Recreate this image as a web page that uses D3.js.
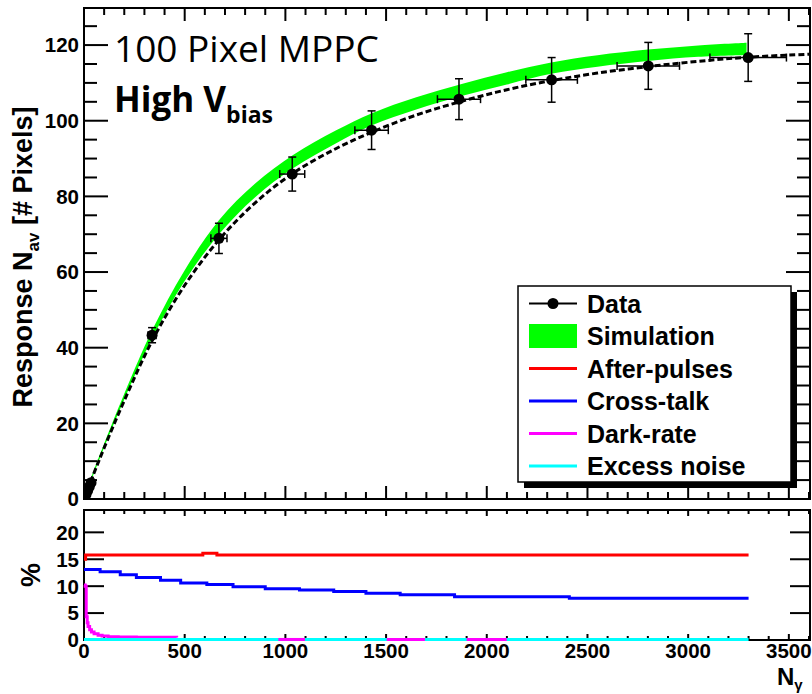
<!DOCTYPE html>
<html>
<head>
<meta charset="utf-8">
<script src="https://cdn.jsdelivr.net/npm/d3@7"></script>
<style>
  body { margin: 0; background: #fff; }
  text { font-family: "Liberation Sans", Arial, sans-serif; font-weight: bold; }
</style>
</head>
<body>
<script>
// Data

// measured points (N_gamma, response, errors)
const dataN    = [3, 10, 18, 26, 35, 338, 670, 1034, 1428, 1862, 2322, 2802, 3298];
const dataY    = [0.3, 1.2, 2.2, 3.2, 4.3, 43.3, 68.9, 85.9, 97.5, 105.7, 110.8, 114.5, 116.7];
const dataErrY = [0.3, 0.5, 0.6, 0.7, 0.8, 2, 4, 4.5, 5.1, 5.4, 5.9, 6.2, 6.3];
const dataErrN = [1, 1, 1, 2, 2, 20, 40, 62, 83, 107, 128, 155, 190];

// dashed fit
const fitN = [0, 50, 100, 200, 340, 500, 670, 850, 1040, 1250, 1430, 1650, 1880, 2100, 2320, 2550, 2800, 3050, 3300, 3605];
const fitY = [0, 6.9, 13.5, 26, 42, 56.5, 68.5, 78.3, 86.2, 92.6, 97, 101.5, 105.2, 108.2, 110.6, 112.6, 114.3, 115.7, 116.8, 117.6];

// simulation band
const simN  = [0, 50, 100, 200, 340, 500, 670, 850, 1040, 1250, 1430, 1650, 1880, 2100, 2320, 2550, 2800, 3050, 3290];
const simLo = [0, 6.9, 13.6, 26.3, 42.6, 57.6, 70, 79.8, 87.5, 94, 98.8, 103, 106.6, 109.6, 112.4, 114.3, 115.8, 116.9, 117.4];
const simHi = [0.4, 7.7, 14.6, 27.8, 44.8, 60.5, 73.7, 83.4, 91, 97.4, 102, 106.2, 109.8, 112.8, 115.4, 117.3, 118.8, 119.9, 120.6];

// lower panel, contributions in %
const apN = [0, 8, 590, 660, 3300];
const apV = [15.0, 15.8, 16.1, 15.8, 15.8];
const ctN = [0, 80, 180, 260, 380, 480, 610, 740, 900, 1070, 1240, 1400, 1570, 1840, 2410, 3300];
const ctV = [13.1, 12.7, 12.1, 11.6, 11.1, 10.6, 10.3, 9.9, 9.5, 9.3, 9.0, 8.7, 8.4, 8.05, 7.75, 7.75];
const drN = [0, 6, 11, 16, 20, 28, 37, 50, 70, 90, 120, 170, 260, 350, 460];
const drV = [10.2, 10.0, 4.3, 3.2, 2.5, 1.9, 1.5, 1.15, 0.9, 0.75, 0.6, 0.55, 0.5, 0.5, 0.45];
const drFlat = [[965, 1097], [1503, 1693], [1900, 2099]];
const enN = [0, 3300];
const enV = [0.1, 0.1];

const xTicks = [0, 500, 1000, 1500, 2000, 2500, 3000, 3500];
const yTopTicks = [0, 20, 40, 60, 80, 100, 120];
const yBotTicks = [0, 5, 10, 15, 20];

const legendItems = [
  { label: 'Data', kind: 'data' },
  { label: 'Simulation', kind: 'box', color: '#00ff00' },
  { label: 'After-pulses', kind: 'line', color: '#ff0000' },
  { label: 'Cross-talk', kind: 'line', color: '#0000ff' },
  { label: 'Dark-rate', kind: 'line', color: '#ff00ff' },
  { label: 'Excess noise', kind: 'line', color: '#00ffff' }
];

// Chart setup
const width = 812;
const height = 694;
const svg = d3.select('body').append('svg')
  .attr('width', width)
  .attr('height', height);

const L = 84, R = 810;
const x = d3.scaleLinear().domain([0, 3605]).range([L, R]);
const yTop = d3.scaleLinear().domain([0, 129.8]).range([499, 8]);
const yBot = d3.scaleLinear().domain([0, 24.15]).range([640, 510]);

const defs = svg.append('defs');
defs.append('clipPath').attr('id', 'clipTop')
  .append('rect').attr('x', L).attr('y', 8).attr('width', R - L).attr('height', 491);

// Top panel
const topG = svg.append('g').attr('clip-path', 'url(#clipTop)');

const band = d3.area()
  .x((d, i) => x(simN[i]))
  .y0((d, i) => yTop(simLo[i]))
  .y1((d, i) => yTop(simHi[i]))
  .curve(d3.curveCatmullRom);
topG.append('path').datum(simN)
  .attr('d', band)
  .attr('fill', '#00ff00');

const fitLine = d3.line()
  .x((d, i) => x(fitN[i]))
  .y((d, i) => yTop(fitY[i]))
  .curve(d3.curveCatmullRom);
topG.append('path').datum(fitN)
  .attr('d', fitLine)
  .attr('fill', 'none')
  .attr('stroke', '#000')
  .attr('stroke-width', 3)
  .attr('stroke-dasharray', '6,3');

const pts = dataN.map((n, i) => ({ n: n, y: dataY[i], ey: dataErrY[i], en: dataErrN[i] }));
const err = topG.append('g').attr('stroke', '#000').attr('stroke-width', 1.5);
pts.forEach(p => {
  const cx = x(p.n), cy = yTop(p.y);
  const y1 = yTop(p.y + p.ey), y2 = yTop(p.y - p.ey);
  const x1 = x(p.n - p.en), x2 = x(p.n + p.en);
  err.append('line').attr('x1', cx).attr('x2', cx).attr('y1', y1).attr('y2', y2);
  err.append('line').attr('x1', cx - 4).attr('x2', cx + 4).attr('y1', y1).attr('y2', y1);
  err.append('line').attr('x1', cx - 4).attr('x2', cx + 4).attr('y1', y2).attr('y2', y2);
  err.append('line').attr('x1', x1).attr('x2', x2).attr('y1', cy).attr('y2', cy);
  err.append('line').attr('x1', x1).attr('x2', x1).attr('y1', cy - 4).attr('y2', cy + 4);
  err.append('line').attr('x1', x2).attr('x2', x2).attr('y1', cy - 4).attr('y2', cy + 4);
});
topG.append('g').selectAll('circle')
  .data(pts)
  .enter().append('circle')
  .attr('cx', d => x(d.n))
  .attr('cy', d => yTop(d.y))
  .attr('r', 5.5)
  .attr('fill', '#000');

// Frames and ticks (ROOT style, inside on all sides)
function frame(yScale, yMajor, yMinor, xMaj, xMin, yMaj, yMin) {
  const [b, t] = yScale.range();
  const g = svg.append('g').attr('stroke', '#000').attr('stroke-width', 2);
  g.append('rect')
    .attr('x', L).attr('y', t).attr('width', R - L).attr('height', b - t)
    .attr('fill', 'none');
  d3.range(0, 3601, 100).forEach(v => {
    const len = v % 500 === 0 ? xMaj : xMin;
    g.append('line').attr('x1', x(v)).attr('x2', x(v)).attr('y1', b).attr('y2', b - len);
    g.append('line').attr('x1', x(v)).attr('x2', x(v)).attr('y1', t).attr('y2', t + len);
  });
  yMinor.forEach(v => {
    const len = yMajor.includes(v) ? yMaj : yMin;
    g.append('line').attr('x1', L).attr('x2', L + len).attr('y1', yScale(v)).attr('y2', yScale(v));
    g.append('line').attr('x1', R).attr('x2', R - len).attr('y1', yScale(v)).attr('y2', yScale(v));
  });
}

frame(yTop, yTopTicks, d3.range(0, 126, 5), 13, 7, 24, 13);
frame(yBot, yBotTicks, yBotTicks, 6, 4, 20, 20);

// Bottom panel, lines drawn over the frame like the original
const botG = svg.append('g');

function stepLine(ns, vs, color) {
  const line = d3.line()
    .x((d, i) => x(ns[i]))
    .y((d, i) => yBot(vs[i]))
    .curve(d3.curveStepAfter);
  botG.append('path').datum(ns)
    .attr('d', line)
    .attr('fill', 'none')
    .attr('stroke', color)
    .attr('stroke-width', 3);
}

stepLine(drN, drV, '#ff00ff');
stepLine(enN, enV, '#00ffff');
drFlat.forEach(s => stepLine(s, [0.1, 0.1], '#ff00ff'));
stepLine(apN, apV, '#ff0000');
stepLine(ctN, ctV, '#0000ff');

// Tick labels
svg.append('g').selectAll('text')
  .data(yTopTicks)
  .enter().append('text')
  .attr('x', 79)
  .attr('y', d => yTop(d))
  .attr('dy', '0.36em')
  .attr('text-anchor', 'end')
  .attr('font-size', '20.5px')
  .text(d => d);

svg.append('g').selectAll('text')
  .data(yBotTicks)
  .enter().append('text')
  .attr('x', 79)
  .attr('y', d => yBot(d))
  .attr('dy', '0.36em')
  .attr('text-anchor', 'end')
  .attr('font-size', '20.5px')
  .text(d => d);

svg.append('g').selectAll('text')
  .data(xTicks)
  .enter().append('text')
  .attr('x', d => x(d))
  .attr('y', 658)
  .attr('text-anchor', 'middle')
  .attr('font-size', '20.5px')
  .text(d => d);

// Axis titles
const yt = svg.append('text')
  .attr('transform', 'translate(32,257) rotate(-90)')
  .attr('text-anchor', 'middle')
  .attr('font-size', '27px');
yt.append('tspan').text('Response N');
yt.append('tspan').attr('dy', 7).attr('font-size', '17px').text('av');
yt.append('tspan').attr('dy', -7).text('  [# Pixels]');

svg.append('text')
  .attr('transform', 'translate(40,575) rotate(-90)')
  .attr('text-anchor', 'middle')
  .attr('font-size', '27px')
  .text('%');

const xt = svg.append('text')
  .attr('x', 777)
  .attr('y', 685)
  .attr('font-size', '24px');
xt.append('tspan').text('N');
xt.append('tspan').attr('dy', 5).attr('font-size', '15px').text('\u03b3');

// Annotation
svg.append('text')
  .attr('x', 114)
  .attr('y', 62)
  .attr('font-size', '37px')
  .style('font-family', '"Open Sans", sans-serif')
  .style('font-weight', 'normal')
  .text('100 Pixel MPPC');

const hv = svg.append('text')
  .attr('x', 114)
  .attr('y', 112)
  .attr('font-size', '35px')
  .style('font-family', '"Open Sans", sans-serif')
  .style('font-weight', 'bold');
hv.append('tspan').text('High V');
hv.append('tspan').attr('dy', 11).attr('font-size', '23px').text('bias');

// Legend
const lg = svg.append('g');
lg.append('rect')
  .attr('x', 524).attr('y', 292).attr('width', 273).attr('height', 196)
  .attr('fill', '#000');
lg.append('rect')
  .attr('x', 518).attr('y', 286).attr('width', 273).attr('height', 196)
  .attr('fill', '#fff').attr('stroke', '#000').attr('stroke-width', 1.5);

legendItems.forEach((d, i) => {
  const cy = 303.5 + i * 32.5;
  if (d.kind === 'data') {
    lg.append('line').attr('x1', 529).attr('x2', 577).attr('y1', cy).attr('y2', cy)
      .attr('stroke', '#000').attr('stroke-width', 2);
    lg.append('circle').attr('cx', 553).attr('cy', cy).attr('r', 5.5).attr('fill', '#000');
  } else if (d.kind === 'box') {
    lg.append('rect').attr('x', 529).attr('y', cy - 12).attr('width', 48).attr('height', 24)
      .attr('fill', d.color);
  } else {
    lg.append('line').attr('x1', 529).attr('x2', 577).attr('y1', cy).attr('y2', cy)
      .attr('stroke', d.color).attr('stroke-width', 3);
  }
  lg.append('text')
    .attr('x', 587)
    .attr('y', cy)
    .attr('dy', '0.36em')
    .attr('font-size', '25px')
    .text(d.label);
});
</script>
</body>
</html>
